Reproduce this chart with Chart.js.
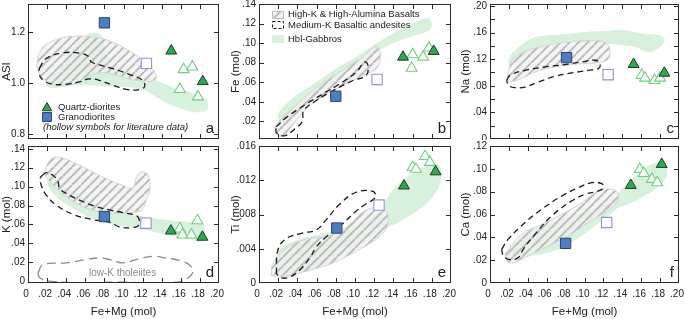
<!DOCTYPE html>
<html lang="en">
<head>
<meta charset="UTF-8">
<title>Fe+Mg variation diagrams</title>
<script src="https://cdn.jsdelivr.net/npm/chart.js"></script>
<style>
  body { margin: 0; background: #fff; }
  canvas { position: absolute; }
</style>
</head>
<body>
<canvas id="pa" width="226" height="140" style="left:0;top:0"></canvas>
<canvas id="pb" width="229" height="140" style="left:229px;top:0"></canvas>
<canvas id="pc" width="226" height="140" style="left:459px;top:0"></canvas>
<canvas id="pd" width="226" height="179" style="left:0;top:140px"></canvas>
<canvas id="pe" width="229" height="179" style="left:229px;top:140px"></canvas>
<canvas id="pf" width="226" height="179" style="left:459px;top:140px"></canvas>

<script>
  const family = '"Liberation Sans", Arial, sans-serif';
  const xTicks = [0, 0.02, 0.04, 0.06, 0.08, 0.10, 0.12, 0.14, 0.16, 0.18, 0.20];

  // --- samples: [Fe+Mg, value] ---
  const granoA = [[0.080, 1.236]];
  const granoLitA = [[0.124, 1.077]];
  const qdA = [[0.150, 1.126], [0.183, 1.006]];
  const qdLitA = [[0.163, 1.053], [0.172, 1.063], [0.159, 0.975], [0.178, 0.946]];

  const granoB = [[0.080, 0.0457]];
  const granoLitB = [[0.123, 0.0629]];
  const qdB = [[0.150, 0.0858], [0.182, 0.0917]];
  const qdLitB = [[0.160, 0.0882], [0.159, 0.0745], [0.171, 0.0858], [0.177, 0.0951]];

  const granoC = [[0.081, 0.1224]];
  const granoLitC = [[0.125, 0.0967]];
  const qdC = [[0.152, 0.1123], [0.1845, 0.0992]];
  const qdLitC = [[0.1605, 0.0957], [0.164, 0.0917], [0.174, 0.0882], [0.180, 0.0917]];

  const granoD = [[0.080, 0.0683]];
  const granoLitD = [[0.1235, 0.0613]];
  const qdD = [[0.1496, 0.0532], [0.1826, 0.0466]];
  const qdLitD = [[0.1774, 0.064], [0.159, 0.0553], [0.1617, 0.049], [0.1711, 0.049]];

  const granoE = [[0.081, 0.00642]];
  const granoLitE = [[0.125, 0.0091]];
  const qdE = [[0.151, 0.01135], [0.184, 0.0130]];
  const qdLitE = [[0.160, 0.0135], [0.1635, 0.0133], [0.173, 0.0148], [0.178, 0.0141]];

  const granoF = [[0.080, 0.0347]];
  const granoLitF = [[0.1235, 0.053]];
  const qdF = [[0.149, 0.0856], [0.1817, 0.104]];
  const qdLitF = [[0.1585, 0.0996], [0.1627, 0.0961], [0.1714, 0.0909], [0.177, 0.088]];

  // --- reference fields (outline vertices, Fe+Mg vs value) ---
  const gabbroA = [[0.021,1.010],[0.030,1.059],[0.047,1.133],[0.061,1.188],[0.075,1.194],[0.080,1.157],[0.082,1.108],[0.089,1.071],[0.103,1.053],[0.120,1.022],[0.134,1.010],[0.151,0.985],[0.172,0.961],[0.186,0.936],[0.188,0.899],[0.179,0.885],[0.165,0.893],[0.144,0.924],[0.127,0.961],[0.113,0.979],[0.096,0.985],[0.075,0.988],[0.057,0.991],[0.040,0.988],[0.026,0.979],[0.019,0.991]];
  const hiKA = [[0.010,1.102],[0.017,1.145],[0.031,1.172],[0.050,1.184],[0.071,1.179],[0.089,1.160],[0.106,1.126],[0.120,1.090],[0.132,1.047],[0.134,1.016],[0.124,1.007],[0.106,1.016],[0.092,1.032],[0.075,1.040],[0.061,1.022],[0.047,0.995],[0.030,0.991],[0.016,1.016],[0.010,1.059]];
  const medKA = [[0.012,1.059],[0.019,1.096],[0.036,1.118],[0.054,1.117],[0.064,1.102],[0.066,1.083],[0.075,1.071],[0.089,1.056],[0.106,1.034],[0.120,1.010],[0.122,0.985],[0.115,0.973],[0.103,0.975],[0.089,0.991],[0.075,1.010],[0.064,1.016],[0.054,1.004],[0.040,0.995],[0.026,0.995],[0.016,1.010],[0.0115,1.037]];

  const gabbroB = [[0.0232,0.0173],[0.0198,0.0275],[0.0389,0.0464],[0.0597,0.0601],[0.0805,0.0739],[0.1013,0.0859],[0.1221,0.0996],[0.143,0.1116],[0.1638,0.1219],[0.176,0.1253],[0.180,0.1202],[0.1777,0.1133],[0.1638,0.1082],[0.143,0.1013],[0.1256,0.0927],[0.1083,0.0807],[0.0874,0.067],[0.0666,0.0533],[0.0458,0.0378],[0.0319,0.0241]];
  const hiKB = [[0.0163,0.0138],[0.0215,0.0207],[0.0562,0.0516],[0.084,0.0704],[0.1083,0.0859],[0.1204,0.0961],[0.1256,0.0927],[0.1263,0.0841],[0.1221,0.0739],[0.1083,0.067],[0.084,0.055],[0.0597,0.0413],[0.0441,0.0275],[0.0319,0.0121],[0.025,0.0053],[0.018,0.007]];
  const medKB = [[0.018,0.0145],[0.0285,0.0241],[0.0493,0.0378],[0.0666,0.0481],[0.084,0.0584],[0.1013,0.0704],[0.110,0.0807],[0.1135,0.0773],[0.1117,0.067],[0.0979,0.0618],[0.0805,0.0533],[0.0597,0.0413],[0.0465,0.031],[0.0451,0.020],[0.0371,0.0121],[0.0267,0.0053],[0.018,0.0087]];

  const gabbroC = [[0.0212,0.1084],[0.0194,0.1184],[0.0265,0.1336],[0.0441,0.1512],[0.0653,0.1562],[0.0865,0.1588],[0.1041,0.1613],[0.1253,0.1628],[0.1394,0.1638],[0.1606,0.1588],[0.1818,0.1547],[0.1836,0.1436],[0.1747,0.1336],[0.1659,0.131],[0.1536,0.1386],[0.1394,0.1411],[0.1218,0.1436],[0.1041,0.1462],[0.0865,0.1462],[0.0688,0.1436],[0.0512,0.1336],[0.0335,0.121]];
  const hiKC = [[0.0194,0.1033],[0.0247,0.121],[0.0406,0.1336],[0.0618,0.1411],[0.0865,0.1462],[0.1112,0.1477],[0.1236,0.1436],[0.1271,0.1285],[0.1236,0.1184],[0.1112,0.1144],[0.090,0.1124],[0.0688,0.1084],[0.0477,0.1008],[0.030,0.0892],[0.0194,0.0872]];
  const medKC = [[0.0177,0.0882],[0.0212,0.0958],[0.0371,0.1033],[0.0582,0.1084],[0.0794,0.1119],[0.0971,0.1159],[0.1112,0.1184],[0.1165,0.1134],[0.1147,0.1058],[0.1041,0.1033],[0.0865,0.0993],[0.0688,0.0942],[0.0512,0.0857],[0.0371,0.0781],[0.0265,0.0771],[0.0194,0.0806]];

  const gabbroD = [[0.0209,0.1138],[0.0331,0.105],[0.047,0.0945],[0.0644,0.084],[0.0818,0.077],[0.0992,0.0735],[0.1166,0.0693],[0.1375,0.0658],[0.1653,0.063],[0.1827,0.0613],[0.1855,0.0508],[0.1827,0.042],[0.1653,0.0455],[0.1444,0.049],[0.127,0.0532],[0.1096,0.0567],[0.0887,0.0602],[0.0679,0.0658],[0.047,0.077],[0.0296,0.0893],[0.0209,0.1015]];
  const hiKD = [[0.0174,0.1155],[0.0226,0.1278],[0.0313,0.1313],[0.047,0.126],[0.0644,0.1173],[0.0818,0.1085],[0.0992,0.1015],[0.1096,0.0987],[0.1131,0.1085],[0.1183,0.1155],[0.1253,0.1127],[0.1277,0.098],[0.1235,0.0847],[0.1194,0.0753],[0.1096,0.0728],[0.0922,0.0718],[0.0748,0.0735],[0.0574,0.0788],[0.040,0.0893],[0.0261,0.1015],[0.0191,0.1103]];
  const medKD = [[0.015,0.112],[0.0191,0.1148],[0.0261,0.112],[0.0313,0.1057],[0.0331,0.098],[0.040,0.0928],[0.0539,0.0858],[0.0713,0.0788],[0.0853,0.0753],[0.1027,0.0718],[0.1148,0.0683],[0.1159,0.0595],[0.1096,0.0567],[0.0957,0.0574],[0.0853,0.0623],[0.0679,0.0651],[0.047,0.0707],[0.0296,0.0805],[0.0191,0.091],[0.0139,0.1015],[0.0129,0.1092]];
  const lowKD = [[0.0104,0.0088],[0.0157,0.0175],[0.040,0.0193],[0.0609,0.0228],[0.0748,0.0245],[0.0853,0.0228],[0.0992,0.0193],[0.1166,0.0238],[0.1305,0.0263],[0.1444,0.0245],[0.1618,0.021],[0.1705,0.0158],[0.1723,0.0088],[0.167,0.0028],[0.1583,-0.0007],[0.127,-0.0018],[0.0922,-0.001],[0.0574,-0.0018],[0.0226,0],[0.0122,0.0035]];

  const gabbroE = [[0.0198,0.0009],[0.018,0.0019],[0.0215,0.0039],[0.0389,0.005],[0.0597,0.0056],[0.0805,0.0061],[0.1013,0.0067],[0.1169,0.0076],[0.1291,0.0092],[0.1395,0.0109],[0.1534,0.0123],[0.1673,0.0133],[0.1811,0.0139],[0.1888,0.0136],[0.1888,0.0117],[0.1818,0.0102],[0.1673,0.0086],[0.1499,0.0074],[0.1326,0.0064],[0.1152,0.0054],[0.0979,0.0042],[0.0805,0.003],[0.0597,0.0018],[0.0389,0.001],[0.0285,0.0006]];
  const hiKE = [[0.0128,0.0009],[0.0146,0.0023],[0.0319,0.0043],[0.0527,0.0052],[0.0736,0.0055],[0.0909,0.0065],[0.1083,0.0083],[0.1221,0.0088],[0.1326,0.0084],[0.1343,0.007],[0.1291,0.0058],[0.1152,0.0046],[0.0979,0.0035],[0.0805,0.0025],[0.0597,0.0017],[0.0389,0.0011],[0.0215,0.0007]];
  const medKE = [[0.018,0.0011],[0.0198,0.0039],[0.0285,0.0052],[0.0441,0.0058],[0.0597,0.0062],[0.0701,0.0074],[0.084,0.0092],[0.1013,0.0106],[0.1187,0.0107],[0.1211,0.010],[0.1083,0.009],[0.1013,0.0084],[0.084,0.0066],[0.0701,0.0054],[0.0597,0.0042],[0.0527,0.0029],[0.0423,0.0015],[0.0319,0.0007],[0.0232,0.0006]];

  const gabbroF = [[0.0159,0.0268],[0.0335,0.0413],[0.0547,0.0495],[0.0759,0.0559],[0.1041,0.0631],[0.1253,0.0704],[0.1394,0.0821],[0.1536,0.0937],[0.1677,0.1024],[0.1818,0.1053],[0.1871,0.0995],[0.1853,0.0908],[0.1747,0.0821],[0.1606,0.0748],[0.1465,0.069],[0.1359,0.0661],[0.1253,0.0588],[0.1112,0.0501],[0.0971,0.0413],[0.0794,0.0326],[0.0618,0.0268],[0.0441,0.0239],[0.0265,0.0215],[0.0159,0.0224]];
  const hiKF = [[0.0159,0.0253],[0.0335,0.0428],[0.0512,0.050],[0.0759,0.0602],[0.0971,0.0704],[0.1147,0.0806],[0.1288,0.0821],[0.1359,0.0777],[0.1324,0.069],[0.1183,0.0602],[0.1041,0.053],[0.083,0.0413],[0.0653,0.034],[0.0477,0.0268],[0.030,0.0195],[0.0194,0.018]];
  const medKF = [[0.0124,0.0297],[0.0194,0.0384],[0.0371,0.053],[0.0547,0.0646],[0.0759,0.0762],[0.0935,0.0835],[0.1077,0.0879],[0.1183,0.087],[0.120,0.0835],[0.1147,0.0806],[0.1006,0.0777],[0.0865,0.0719],[0.0653,0.0588],[0.0477,0.0428],[0.0353,0.0297],[0.030,0.0224],[0.0212,0.0204],[0.0141,0.0239]];

  // hatch for the High-K field
  const hatch = (() => {
    const n = 9;
    const c = document.createElement('canvas');
    c.width = c.height = n;
    const g = c.getContext('2d');
    g.fillStyle = 'rgba(240,240,240,0.75)';
    g.fillRect(0, 0, n, n);
    g.strokeStyle = 'rgba(180,180,180,0.85)';
    g.lineWidth = 2;
    g.beginPath();
    [-n, 0, n].forEach(o => { g.moveTo(o, n); g.lineTo(o + n, 0); });
    g.stroke();
    return g.createPattern(c, 'repeat');
  })();

  const GREEN = '#d8f1dc';
  const pts = arr => arr.map(([x, y]) => ({x, y}));
  const closed = arr => pts(arr.concat([arr[0]]));
  const fmt = (v, d) => v === 0 ? '0' : (d === 1 ? v.toFixed(1) : v.toFixed(d).replace(/^0/, ''));

  function marks(data, kind) {
    const s = {
      qd:       {pointStyle: 'triangle', pointRadius: 6.3, backgroundColor: '#2fa84f', borderColor: '#1c3a24', borderWidth: 1},
      qdLit:    {pointStyle: 'triangle', pointRadius: 6.3, backgroundColor: '#ffffff', borderColor: '#6fcf80', borderWidth: 1.1},
      grano:    {pointStyle: 'rect', pointRadius: 7.3, backgroundColor: '#4d7ec2', borderColor: '#2a4468', borderWidth: 1},
      granoLit: {pointStyle: 'rect', pointRadius: 7.3, backgroundColor: '#ffffff', borderColor: '#9a8ed8', borderWidth: 1.1}
    }[kind];
    return Object.assign({type: 'scatter', data: pts(data)}, s);
  }

  function field(data, kind) {
    const base = {type: 'line', data: closed(data), pointRadius: 0, tension: 0.4};
    if (kind === 'gabbro') return Object.assign(base, {fill: 'shape', backgroundColor: GREEN, borderWidth: 0, borderColor: GREEN});
    if (kind === 'hiK') return Object.assign(base, {fill: 'shape', backgroundColor: hatch, borderColor: 'rgba(210,210,210,0.9)', borderWidth: 1});
    if (kind === 'lowK') return Object.assign(base, {fill: false, borderColor: '#8a8a8a', borderWidth: 1.3, borderDash: [9, 5]});
    return Object.assign(base, {fill: false, borderColor: '#1a1a1a', borderWidth: 1.3, borderDash: [6, 4]});
  }

  const panels = [
    {id: 'pa', letter: 'a', title: 'ASI', min: 0.78, max: 1.31, labels: [0.8, 1.0, 1.2], ticks: [0.8, 1.0, 1.2], dec: 1, w: 28, right: 7, bottomRow: false,
     s: [granoA, granoLitA, qdA, qdLitA], f: [gabbroA, hiKA, medKA], legend: 'samples'},
    {id: 'pb', letter: 'b', title: 'Fe (mol)', min: 0.002, max: 0.14, labels: [0.02, 0.04, 0.06, 0.08, 0.10, 0.12, 0.14], ticks: [0.02, 0.04, 0.06, 0.08, 0.10, 0.12], dec: 2, w: 30, right: 7, bottomRow: false,
     s: [granoB, granoLitB, qdB, qdLitB], f: [gabbroB, hiKB, medKB], legend: 'fields'},
    {id: 'pc', letter: 'c', title: 'Na (mol)', min: 0, max: 0.203, labels: [0, 0.04, 0.08, 0.12, 0.16, 0.20], ticks: [0.02, 0.04, 0.06, 0.08, 0.10, 0.12, 0.14, 0.16, 0.18, 0.20], dec: 2, w: 31, right: 6, bottomRow: false,
     s: [granoC, granoLitC, qdC, qdLitC], f: [gabbroC, hiKC, medKC]},
    {id: 'pd', letter: 'd', title: 'K (mol)', min: -0.002, max: 0.143, labels: [0, 0.02, 0.04, 0.06, 0.08, 0.10, 0.12, 0.14], ticks: [0.02, 0.04, 0.06, 0.08, 0.10, 0.12, 0.14], dec: 2, w: 28, right: 7, bottomRow: true,
     s: [granoD, granoLitD, qdD, qdLitD], f: [gabbroD, hiKD, medKD], lowK: lowKD},
    {id: 'pe', letter: 'e', title: 'Ti (mol)', min: 0, max: 0.016, labels: [0, 0.004, 0.008, 0.012, 0.016], ticks: [0.004, 0.008, 0.012], dec: 3, w: 30, right: 7, bottomRow: true,
     s: [granoE, granoLitE, qdE, qdLitE], f: [gabbroE, hiKE, medKE]},
    {id: 'pf', letter: 'f', title: 'Ca (mol)', min: 0, max: 0.12, labels: [0, 0.02, 0.04, 0.06, 0.08, 0.10, 0.12], ticks: [0.02, 0.04, 0.06, 0.08, 0.10], dec: 2, w: 31, right: 6, bottomRow: true,
     s: [granoF, granoLitF, qdF, qdLitF], f: [gabbroF, hiKF, medKF]}
  ];

  function decor(p) {
    return {
      id: 'decor',
      afterDatasetsDraw(chart) {
        const {ctx, chartArea: a, scales: {x, y}} = chart;
        ctx.save();
        ctx.strokeStyle = '#2a2a2a';
        ctx.lineWidth = 1;
        ctx.strokeRect(a.left + 0.5, a.top + 0.5, a.right - a.left - 1, a.bottom - a.top - 1);
        ctx.beginPath();
        xTicks.slice(1, -1).forEach(v => {
          const px = Math.round(x.getPixelForValue(v)) + 0.5;
          ctx.moveTo(px, a.top); ctx.lineTo(px, a.top + 5);
          ctx.moveTo(px, a.bottom); ctx.lineTo(px, a.bottom - 5);
        });
        p.ticks.forEach(v => {
          const py = Math.round(y.getPixelForValue(v)) + 0.5;
          if (py < a.top + 2) return;
          ctx.moveTo(a.left, py); ctx.lineTo(a.left + 5, py);
          ctx.moveTo(a.right, py); ctx.lineTo(a.right - 5, py);
        });
        ctx.stroke();

        ctx.fillStyle = '#222';
        ctx.font = '15px ' + family;
        ctx.textAlign = 'right';
        ctx.textBaseline = 'alphabetic';
        ctx.fillText(p.letter, a.right - 5, a.bottom - 6);

        if (p.lowK) {
          ctx.fillStyle = '#8a8a8a';
          ctx.font = '10px ' + family;
          ctx.textAlign = 'center';
          ctx.textBaseline = 'middle';
          ctx.fillText('low-K tholeiites', x.getPixelForValue(0.099), y.getPixelForValue(0.0088));
        }

        if (p.legend === 'samples') {
          const lx = a.left + 19;
          ctx.fillStyle = '#2fa84f'; ctx.strokeStyle = '#1c3a24';
          Chart.helpers.drawPoint(ctx, {pointStyle: 'triangle', radius: 5.5, borderWidth: 1, rotation: 0}, lx, a.top + 104);
          ctx.fillStyle = '#4d7ec2'; ctx.strokeStyle = '#2a4468';
          Chart.helpers.drawPoint(ctx, {pointStyle: 'rect', radius: 6.3, borderWidth: 1, rotation: 0}, lx, a.top + 113);
          ctx.fillStyle = '#222';
          ctx.font = '9.5px ' + family;
          ctx.textAlign = 'left';
          ctx.textBaseline = 'middle';
          ctx.fillText('Quartz-diorites', a.left + 30, a.top + 103);
          ctx.fillText('Granodiorites', a.left + 30, a.top + 113);
          ctx.font = 'italic 9.5px ' + family;
          ctx.fillText('(hollow symbols for literature data)', a.left + 15, a.top + 123);
        }

        if (p.legend === 'fields') {
          const ix = a.left + 13, iw = 11, ih = 7;
          ctx.fillStyle = hatch; ctx.strokeStyle = 'rgba(190,190,190,1)'; ctx.lineWidth = 1;
          ctx.fillRect(ix, a.top + 7, iw, ih); ctx.strokeRect(ix + 0.5, a.top + 7.5, iw, ih);
          ctx.strokeStyle = '#1a1a1a'; ctx.setLineDash([3, 2]);
          ctx.strokeRect(ix + 0.5, a.top + 17.5, iw, ih);
          ctx.setLineDash([]);
          ctx.fillStyle = GREEN;
          ctx.fillRect(ix, a.top + 31, iw + 1, ih + 1);
          ctx.fillStyle = '#222';
          ctx.font = '9.5px ' + family;
          ctx.textAlign = 'left';
          ctx.textBaseline = 'middle';
          ctx.fillText('High-K & High-Alumina Basalts', a.left + 29, a.top + 10);
          ctx.fillText('Medium-K Basaltic andesites', a.left + 29, a.top + 21);
          ctx.fillText('Hbl-Gabbros', a.left + 29, a.top + 35);
        }
        ctx.restore();
      }
    };
  }

  panels.forEach(p => {
    const datasets = [
      marks(p.s[2], 'qd'), marks(p.s[3], 'qdLit'), marks(p.s[0], 'grano'), marks(p.s[1], 'granoLit'),
      field(p.f[2], 'medK')
    ];
    if (p.lowK) datasets.push(field(p.lowK, 'lowK'));
    datasets.push(field(p.f[1], 'hiK'), field(p.f[0], 'gabbro'));

    new Chart(document.getElementById(p.id), {
      type: 'scatter',
      data: {datasets},
      options: {
        responsive: false,
        animation: false,
        devicePixelRatio: 1,
        events: [],
        layout: {autoPadding: false, padding: {left: 0, right: p.right, top: p.bottomRow ? 6 : 4, bottom: p.bottomRow ? 0 : 1}},
        plugins: {legend: {display: false}, tooltip: {enabled: false}},
        scales: {
          x: {
            type: 'linear', min: 0, max: 0.2, display: p.bottomRow,
            afterBuildTicks: s => { s.ticks = xTicks.map(v => ({value: v})); },
            afterFit: s => { s.height = p.bottomRow ? 36 : 0; s.paddingLeft = 0; s.paddingRight = 0; },
            grid: {display: false, drawTicks: false},
            border: {display: false},
            ticks: {padding: 5, labelOffset: -2, autoSkip: false, maxRotation: 0, color: '#222', font: {family, size: 10}, callback: v => fmt(v, 2)},
            title: {display: true, text: 'Fe+Mg (mol)', padding: 0, color: '#222', font: {family, size: 11.5}}
          },
          y: {
            type: 'linear', min: p.min, max: p.max,
            afterBuildTicks: s => { s.ticks = p.labels.map(v => ({value: v})); },
            afterFit: s => { s.width = p.w; s.paddingTop = 0; s.paddingBottom = 0; },
            grid: {display: false, drawTicks: false},
            border: {display: false},
            ticks: {padding: 3, autoSkip: false, color: '#222', font: {family, size: 10}, callback: v => fmt(v, p.dec)},
            title: {display: true, text: p.title, padding: 0, color: '#222', font: {family, size: 11.5}}
          }
        }
      },
      plugins: [decor(p)]
    });
  });
</script>
</body>
</html>
